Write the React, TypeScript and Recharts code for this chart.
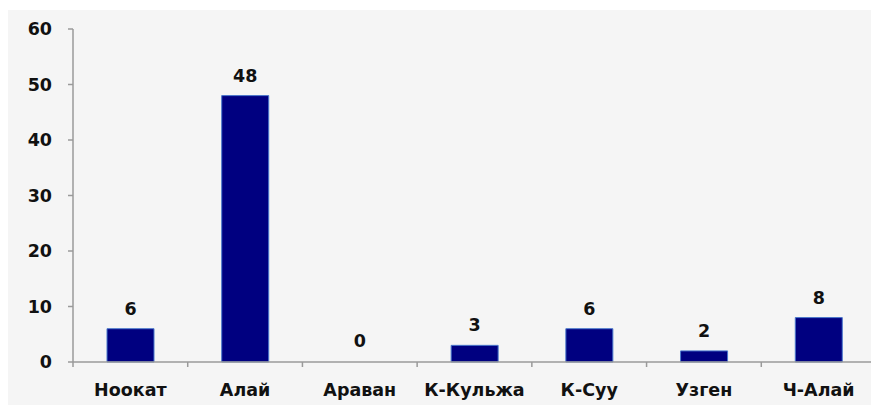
import { BarChart, Bar, XAxis, YAxis, LabelList, Cell } from 'recharts'

const districts = ['Ноокат', 'Алай', 'Араван', 'К-Кульжа', 'К-Суу', 'Узген', 'Ч-Алай']
const counts = [6, 48, 0, 3, 6, 2, 8]
const yTicks = [0, 10, 20, 30, 40, 50, 60]
const boundaryTicks = [0, 1, 2, 3, 4, 5, 6, 7]

const data = districts.map((name, i) => ({ name, value: counts[i], pos: i + 0.5 }))

const font = '"DejaVu Sans", Verdana, sans-serif'
const axisGrey = '#9a9a9a'

const renderLabel = (props: any) => {
  const { x, y, width, height, value } = props
  const top = Math.min(Number(y), Number(y) + Number(height))
  return (
    <text
      x={Number(x) + Number(width) / 2}
      y={value === 0 ? top - 14 : top - 14}
      textAnchor="middle"
      fontSize={17.5}
      fontWeight="bold"
      fill="#111"
      fontFamily={font}
    >
      {value}
    </text>
  )
}

export default function App() {
  return (
    <div style={{ marginTop: 2, width: 871, height: 395, background: '#f5f5f5' }}>
      <BarChart
        width={871}
        height={395}
        data={data}
        margin={{ top: 19, right: 3, left: 0, bottom: 12 }}
        style={{ fontFamily: font }}
      >
        <XAxis
          xAxisId="a"
          type="number"
          dataKey="pos"
          domain={[0, 7]}
          ticks={boundaryTicks}
          tickFormatter={() => ''}
          height={1}
          stroke={axisGrey}
          strokeWidth={1.5}
          tickSize={5}
        />
        <XAxis
          xAxisId="b"
          dataKey="name"
          height={30}
          axisLine={false}
          tickLine={false}
          tickSize={0}
          tickMargin={21}
          tick={{ fontSize: 17.5, fontWeight: 'bold', fill: '#111', fontFamily: font }}
          interval={0}
        />
        <YAxis
          width={65}
          domain={[0, 60]}
          ticks={yTicks}
          stroke={axisGrey}
          strokeWidth={1.5}
          tickSize={5}
          tickMargin={16}
          tick={{ fontSize: 17.5, fontWeight: 'bold', fill: '#111', fontFamily: font }}
        />
        <Bar
          xAxisId="b"
          dataKey="value"
          fill="#000080"
          stroke="#4a78cc"
          strokeWidth={1}
          barSize={47}
          minPointSize={1}
          isAnimationActive={false}
        >
          {data.map((d) => (
            <Cell
              key={d.name}
              fill={d.value === 0 ? 'transparent' : '#000080'}
              stroke={d.value === 0 ? 'none' : '#4a78cc'}
            />
          ))}
          <LabelList dataKey="value" content={renderLabel} />
        </Bar>
      </BarChart>
    </div>
  )
}
